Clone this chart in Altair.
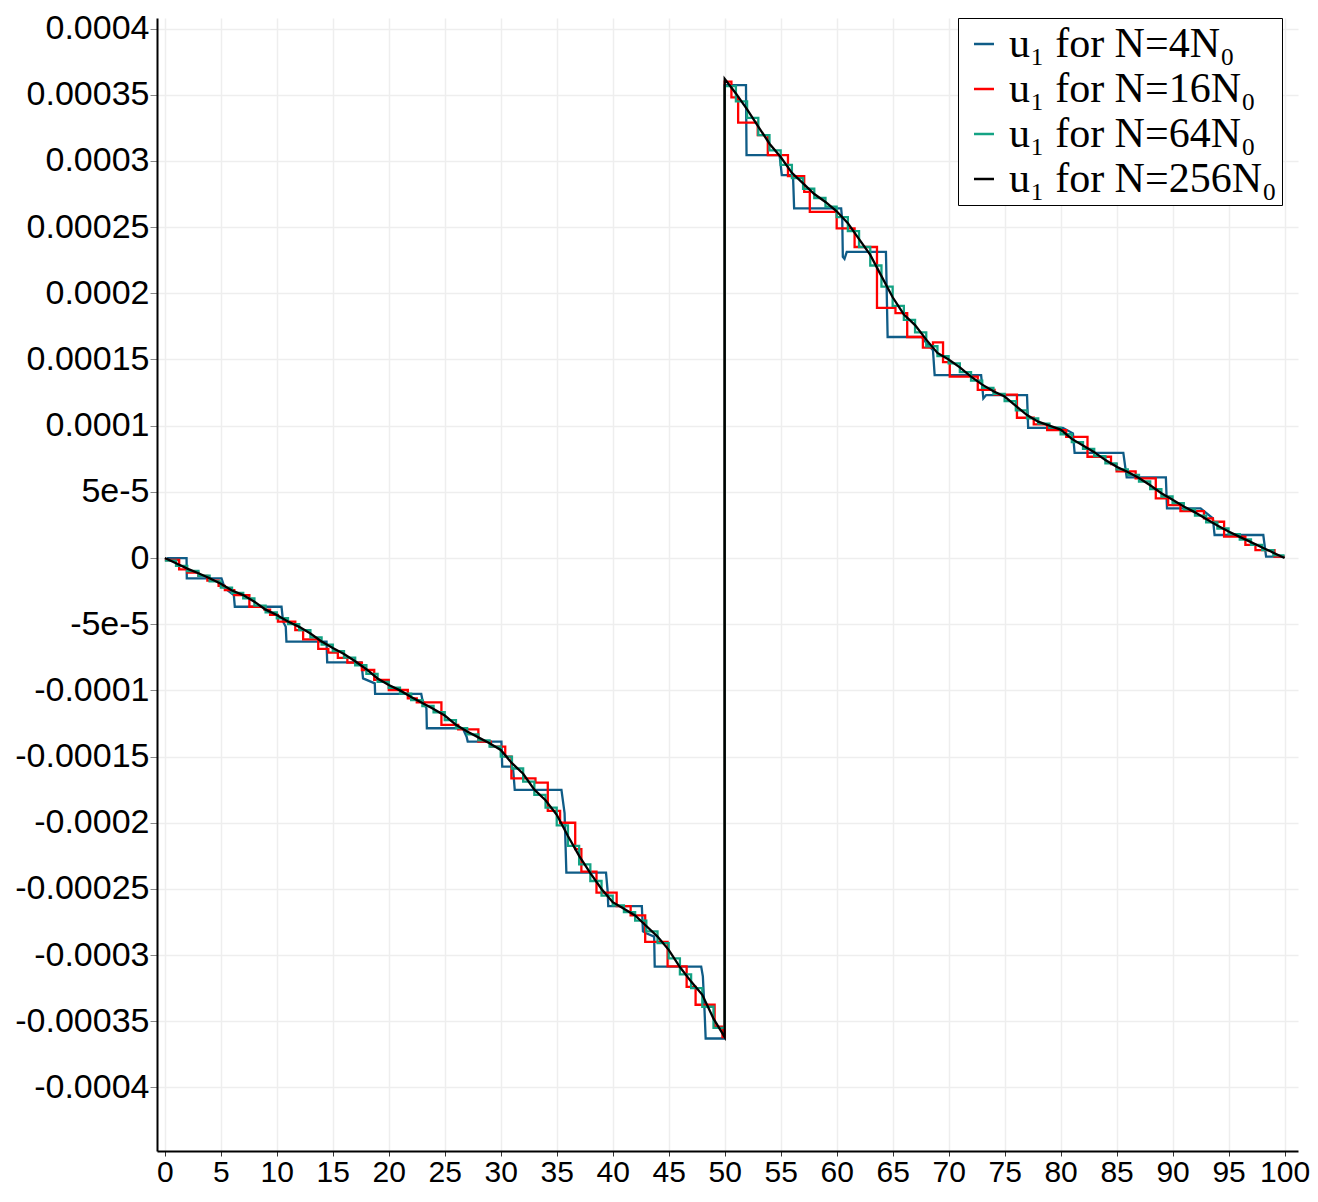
import altair as alt
import pandas as pd

# ---------------- data (y values in units of 1e-5) ----------------
labels = ["u₁ for N=4N₀", "u₁ for N=16N₀", "u₁ for N=64N₀", "u₁ for N=256N₀"]
colors = ["#0f5c87", "#ff0000", "#14a384", "#000000"]

# N = 4 N0 : explicit polyline vertices
blue_x = [0.2, 1.94, 1.96, 5.06, 5.36, 6.16, 6.25, 10.42, 10.56, 10.8, 10.86, 14.44, 14.5, 17.56,
          17.7, 18.75, 18.78, 22.9, 23.0, 23.36, 23.4, 26.6, 26.95, 27.05, 30.06, 30.13, 30.94,
          31.1, 31.25, 35.42, 35.7, 35.86, 39.4, 39.55, 39.6, 42.6, 42.7, 43.0, 43.7, 43.75,
          47.9, 48.05, 48.2, 48.3, 50.0,
          50.0, 51.9, 51.95, 54.9, 55.0, 55.1, 56.1, 56.2, 60.4, 60.5, 60.55, 60.7, 60.9, 64.4,
          64.45, 64.55, 67.6, 67.75, 68.6, 68.75, 72.9, 73.0, 73.1, 73.35, 77.0, 77.1, 80.2,
          81.1, 81.25, 85.6, 85.9, 89.4, 89.5, 92.5, 93.6, 93.75, 98.1, 98.35, 100.0]
blue_y = [0, 0, -1.53, -1.53, -2.29, -2.79, -3.68, -3.68, -4.81, -5.19, -6.32, -6.32, -7.88, -7.88,
          -9.09, -9.47, -10.27, -10.27, -10.7, -11.35, -12.86, -12.86, -13.5, -13.87, -13.87, -15.76,
          -15.76, -15.9, -17.52, -17.52, -19.28, -23.77, -23.77, -25.2, -26.3, -26.3, -28.2, -28.35,
          -28.6, -30.87, -30.87, -31.6, -34.2, -36.3, -36.3,
          35.73, 35.73, 30.44, 30.44, 29.7, 28.93, 28.93, 26.41, 26.41, 25.5, 22.76, 22.6, 23.13,
          23.13, 21.0, 16.7, 16.7, 16.5, 15.7, 13.82, 13.82, 12.98, 12.06, 12.31, 12.31, 9.84, 9.84,
          9.42, 7.95, 7.95, 6.09, 6.09, 3.75, 3.75, 3.0, 1.74, 1.74, 0.1, 0.1]

# N = 16 N0 : staircase (step start, level)
red_x = [0.0, 1.28, 2.0, 3.0, 3.8, 4.8, 5.36, 6.2, 7.55, 8.9, 9.4, 10.1, 11.65, 12.35, 13.7, 14.6,
         15.45, 16.3, 17.6, 18.7, 20.0, 21.7, 22.5, 24.7, 26.2, 28.0, 29.1, 30.4, 30.95, 33.1,
         34.2, 35.3, 36.65, 37.2, 38.55, 40.35, 41.6, 42.9, 44.9, 46.6, 47.4, 49.1, 49.8,
         50.0, 50.6, 51.2, 52.95, 53.85, 55.65, 57.1, 57.6, 60.0, 61.6, 63.6, 65.25, 66.3, 67.7,
         68.6, 69.5, 70.1, 72.6, 74.1, 76.1, 77.6, 78.8, 80.5, 82.4, 84.5, 85.0, 86.7, 88.5,
         89.6, 90.7, 92.8, 93.6, 94.6, 96.5, 97.4, 99.1]
red_y = [-0.15, -0.85, -1.1, -1.35, -1.71, -2.1, -2.42, -2.8, -3.68, -3.9, -4.3, -4.8, -5.44, -6.14,
         -6.87, -7.15, -7.55, -7.9, -8.46, -9.2, -9.97, -10.6, -10.9, -12.6, -12.94, -13.87, -14.25,
         -15.0, -16.64, -16.97, -19.1, -20.0, -22.0, -23.7, -25.28, -26.3, -27.0, -29.0, -30.85,
         -32.4, -33.75, -35.4, -36.2,
         36.0, 34.8, 32.9, 31.95, 30.44, 28.85, 27.67, 26.16, 24.9, 23.5, 18.9, 18.5, 16.7, 15.9,
         16.3, 14.8, 13.7, 12.7, 12.35, 10.6, 10.1, 9.67, 9.15, 7.65, 7.1, 6.55, 6.02, 4.5,
         4.0, 3.55, 3.0, 2.74, 1.61, 1.0, 0.6, 0.1]

# N = 64 N0 : staircase, one level per unit of x
green_x = list(range(0, 100))
green_y = [-0.2, -0.6, -0.98, -1.34, -1.77, -2.23, -2.63, -3.05, -3.6, -4.1,
           -4.55, -5.0, -5.45, -6.0, -6.55, -7.03, -7.53, -8.1, -8.75, -9.35,
           -9.8, -10.25, -10.73, -11.18, -11.65, -12.25, -12.85, -13.33, -13.78, -14.25,
           -15.0, -15.9, -16.9, -17.9, -18.85, -20.2, -21.75, -23.15, -24.4, -25.5,
           -26.25, -26.75, -27.4, -28.2, -29.1, -30.25, -31.45, -32.5, -33.9, -35.5,
           35.65, 34.5, 33.25, 31.95, 30.8, 29.7, 28.7, 27.9, 27.2, 26.55,
           25.75, 24.7, 23.5, 22.1, 20.5, 19.05, 18.0, 17.05, 16.0, 15.25,
           14.7, 14.05, 13.4, 12.85, 12.4, 11.85, 11.15, 10.55, 10.15, 9.85,
           9.35, 8.75, 8.25, 7.7, 7.15, 6.7, 6.28, 5.78, 5.2, 4.65,
           4.15, 3.68, 3.2, 2.7, 2.23, 1.8, 1.4, 1.0, 0.6, 0.2]

# N = 256 N0 : fine solution, polyline
black_x = list(range(0, 51)) + list(range(50, 101))
black_y = [0, -0.4, -0.8, -1.15, -1.53, -1.95, -2.45, -2.8, -3.3, -3.9,
           -4.3, -4.8, -5.2, -5.7, -6.3, -6.8, -7.25, -7.8, -8.4, -9.1,
           -9.6, -10.0, -10.5, -10.95, -11.4, -11.9, -12.6, -13.1, -13.55, -14.0,
           -14.5, -15.5, -16.3, -17.5, -18.3, -19.4, -21.0, -22.5, -23.8, -25.0,
           -26.0, -26.5, -27.0, -27.8, -28.6, -29.6, -30.9, -32.0, -33.0, -34.8, -36.2,
           36.2, 35.1, 33.9, 32.6, 31.3, 30.3, 29.1, 28.3, 27.5, 26.9,
           26.2, 25.3, 24.1, 22.9, 21.3, 19.7, 18.4, 17.6, 16.5, 15.5,
           15.0, 14.4, 13.7, 13.1, 12.6, 12.2, 11.5, 10.8, 10.3, 10.0,
           9.7, 9.0, 8.5, 8.0, 7.4, 6.9, 6.5, 6.05, 5.5, 4.9,
           4.4, 3.9, 3.45, 2.95, 2.45, 2.0, 1.6, 1.2, 0.8, 0.4, 0]

x_ticks = list(range(0, 101, 5))
y_ticks = [-0.0004, -0.00035, -0.0003, -0.00025, -0.0002, -0.00015, -0.0001, -0.00005, 0.0,
           0.00005, 0.0001, 0.00015, 0.0002, 0.00025, 0.0003, 0.00035, 0.0004]

# ---------------- build table ----------------
rows = []


def add_poly(xs, ys, lab):
    for i, (xv, yv) in enumerate(zip(xs, ys)):
        rows.append({"x": xv, "y": yv * 1e-5, "series": lab, "order": i})


def add_steps(xs, ys, lab, x_end=100.0):
    k = 0
    for i, (xv, yv) in enumerate(zip(xs, ys)):
        xn = xs[i + 1] if i + 1 < len(xs) else x_end
        rows.append({"x": xv, "y": yv * 1e-5, "series": lab, "order": k}); k += 1
        rows.append({"x": xn, "y": yv * 1e-5, "series": lab, "order": k}); k += 1


add_poly(blue_x, blue_y, labels[0])
add_steps(red_x, red_y, labels[1])
add_steps(green_x, green_y, labels[2])
add_poly(black_x, black_y, labels[3])
df = pd.DataFrame(rows)

font_ax = "Liberation Sans, Arial, sans-serif"

x_enc = alt.X("x:Q", scale=alt.Scale(domain=[-0.7, 101.2], nice=False, zero=False),
              axis=alt.Axis(values=x_ticks, title=None, grid=True, gridColor="#eeeeee", gridWidth=1.5,
                            domainColor="#000000", domainWidth=2, tickColor="#333333", tickSize=5,
                            labelFontSize=30, labelFont=font_ax, labelColor="#000000", labelPadding=1,
                            labelOverlap=False, labelFlush=False))
y_enc = alt.Y("y:Q", scale=alt.Scale(domain=[-0.000448, 0.000408], nice=False, zero=False),
              axis=alt.Axis(values=y_ticks, title=None, grid=True, gridColor="#eeeeee", gridWidth=1.5,
                            domainColor="#000000", domainWidth=2, tickColor="#888888", tickSize=7,
                            labelFontSize=34, labelFont=font_ax, labelColor="#000000", labelPadding=1,
                            labelOverlap=False, labelFlush=False,
                            labelExpr="abs(datum.value) < 0.00006 && datum.value != 0 ? (datum.value < 0 ? '-5e-5' : '5e-5') : '' + datum.value"))
color_enc = alt.Color("series:N", scale=alt.Scale(domain=labels, range=colors),
                      legend=alt.Legend(title=None, orient="none", legendX=801, legendY=0,
                                        strokeColor="#000000", fillColor="#ffffff", padding=5,
                                        labelFontSize=42, labelFont="Liberation Serif, DejaVu Serif, serif",
                                        labelColor="#000000", symbolType="stroke", symbolSize=400,
                                        symbolStrokeWidth=2.5, rowPadding=3, labelLimit=500,
                                        cornerRadius=0, labelOffset=4))

layers = []
for lab in labels:
    layers.append(
        alt.Chart(df).transform_filter(alt.datum.series == lab)
        .mark_line(strokeWidth=2.3, clip=True)
        .encode(x=x_enc, y=y_enc, color=color_enc, order="order:Q")
    )

chart = alt.layer(*layers).properties(
    width=1141, height=1133,
    padding={"left": 149, "top": 10, "right": 12, "bottom": 37},
    autosize=alt.AutoSizeParams(type="none"),
    background="#ffffff",
).configure_view(stroke=None)

chart.save("out.html", embed_options={"renderer": "svg", "actions": False})
